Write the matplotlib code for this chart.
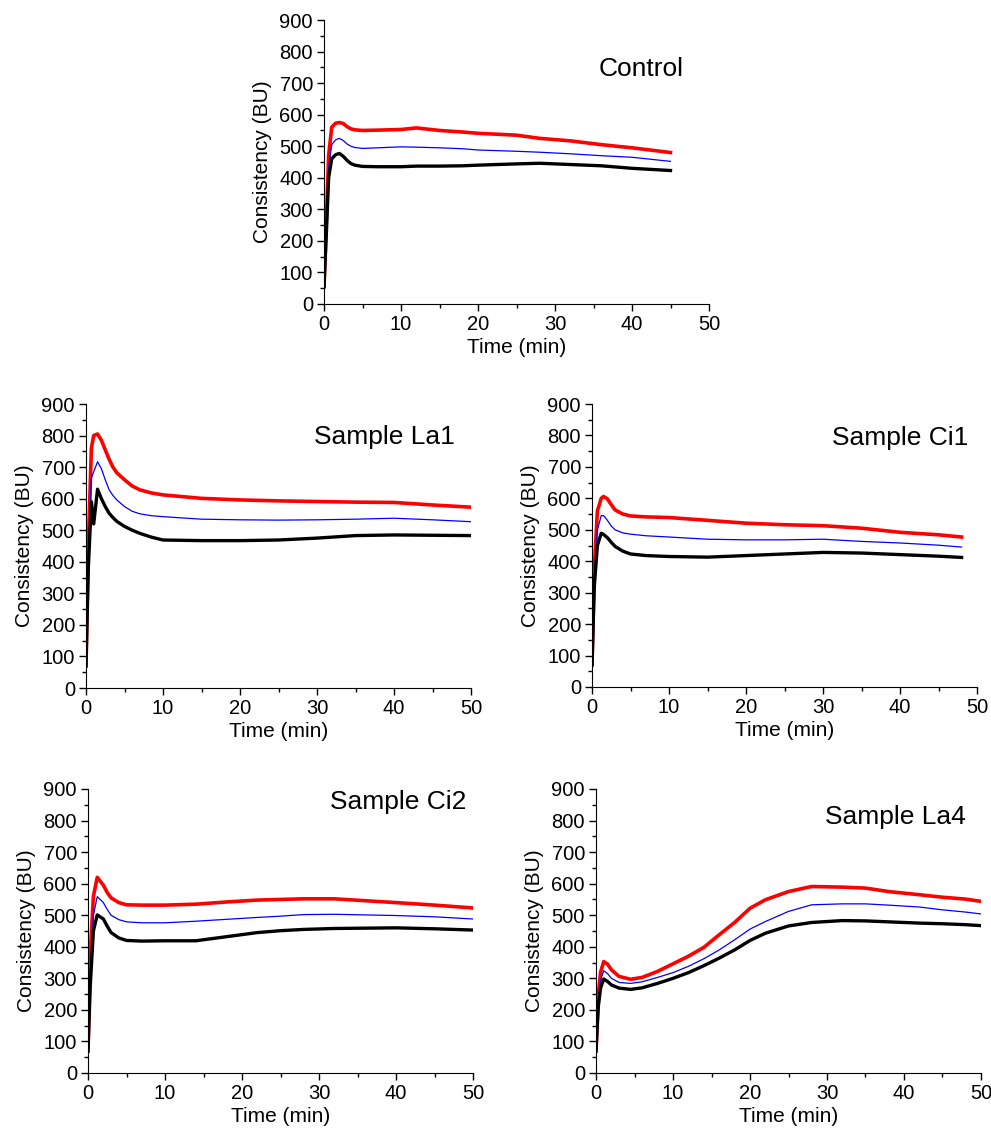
import numpy as np
import matplotlib
matplotlib.use("Agg")
import matplotlib.pyplot as plt
from matplotlib.ticker import MultipleLocator

plt.rcParams['font.family'] = ['Liberation Sans', 'DejaVu Sans']

# Data (time in min, consistency in BU)
ctrl_t = [0, 0.3, 0.6, 1.0, 1.5, 2.0, 2.5, 3.0, 3.5, 4, 5, 7, 10, 12, 15, 18, 20, 25, 28, 32, 36, 40, 45]
ctrl_red = [55, 260, 470, 560, 573, 575, 572, 562, 555, 552, 550, 551, 553, 558, 550, 545, 541, 535, 525, 517, 505, 495, 480]
ctrl_blue = [55, 240, 430, 505, 520, 525, 518, 507, 500, 496, 493, 495, 498, 497, 495, 492, 488, 484, 481, 476, 470, 465, 452]
ctrl_black = [55, 220, 400, 460, 473, 477, 468, 455, 445, 440, 436, 435, 435, 437, 437, 438, 440, 444, 446, 442, 438, 430, 423]

la1_t = [0, 0.3, 0.7, 1.0, 1.5, 2, 2.5, 3, 3.5, 4, 5, 6, 7, 8.5, 10, 15, 20, 25, 30, 35, 40, 45, 50]
la1_red = [70, 450, 760, 800, 805, 785, 755, 725, 700, 682, 660, 640, 628, 618, 612, 601, 596, 593, 591, 589, 588, 580, 573]
la1_blue = [70, 400, 665, 685, 717, 695, 660, 628, 610, 596, 575, 560, 552, 546, 543, 535, 533, 532, 533, 535, 538, 533, 527]
la1_black = [70, 380, 590, 520, 630, 600, 575, 554, 540, 528, 512, 500, 490, 478, 469, 467, 467, 469, 475, 483, 485, 484, 483]

ci1_t = [0, 0.3, 0.7, 1.2, 1.5, 2, 2.5, 3, 4, 5, 7, 10, 15, 20, 25, 30, 35, 40, 45, 48]
ci1_red = [70, 380, 560, 600, 606, 598, 580, 563, 550, 544, 541, 539, 530, 521, 516, 513, 505, 492, 484, 477]
ci1_blue = [70, 350, 500, 545, 545, 530, 512, 500, 490, 486, 481, 477, 470, 468, 468, 470, 463, 458, 451, 445]
ci1_black = [70, 320, 450, 489, 485, 475, 460, 447, 432, 423, 418, 415, 413, 418, 423, 428, 426, 421, 416, 412]

ci2_t = [0, 0.3, 0.7, 1.2, 2, 2.5, 3, 4, 5, 7, 10, 14, 18, 22, 25, 28, 32, 40, 45, 50]
ci2_red = [70, 380, 560, 620, 595, 572, 555, 540, 533, 532, 532, 535, 542, 548, 550, 552, 552, 540, 532, 523]
ci2_blue = [70, 300, 500, 559, 540, 518, 500, 486, 479, 476, 476, 481, 487, 493, 497, 502, 503, 499, 495, 488]
ci2_black = [70, 280, 450, 501, 488, 465, 445, 428, 420, 418, 419, 419, 432, 445, 451, 455, 458, 460, 457, 453]

la4_t = [0, 0.3, 0.6, 1.0, 1.5, 2, 3, 4.5, 6, 8, 10, 12, 14, 16, 18, 20, 22, 25, 28, 32, 35, 38, 42, 45, 48, 50]
la4_red = [70, 250, 320, 353, 345, 327, 306, 297, 303, 322, 346, 370, 398, 438, 477, 522, 549, 575, 591, 589, 586, 575, 565, 557, 551, 544]
la4_blue = [70, 230, 295, 324, 315, 300, 287, 284, 289, 303, 318, 338, 362, 390, 422, 456, 480, 512, 533, 536, 536, 532, 526, 517, 510, 504]
la4_black = [70, 210, 270, 298, 290, 279, 269, 265, 270, 284, 300, 318, 340, 364, 390, 420, 443, 466, 477, 483, 482, 479, 475, 473, 470, 467]

panels = [
    ("Control", ctrl_t, ctrl_red, ctrl_blue, ctrl_black, [324, 20, 709, 304], (0.935, 0.827)),
    ("Sample La1", la1_t, la1_red, la1_blue, la1_black, [86, 404, 471, 688], (0.958, 0.884)),
    ("Sample Ci1", ci1_t, ci1_red, ci1_blue, ci1_black, [592, 404, 977, 687], (0.977, 0.88)),
    ("Sample Ci2", ci2_t, ci2_red, ci2_blue, ci2_black, [88, 789, 473, 1073], (0.982, 0.954)),
    ("Sample La4", la4_t, la4_red, la4_blue, la4_black, [596, 789, 981, 1073], (0.961, 0.90)),
]

W, H = 991, 1128
fig = plt.figure(figsize=(W / 100, H / 100), dpi=100)

for name, t, red, blue, black, box, tpos in panels:
    x0, y0, x1, y1 = box
    ax = fig.add_axes([x0 / W, 1 - y1 / H, (x1 - x0) / W, (y1 - y0) / H])
    ax.plot(t, red, color='#ff0000', lw=2.6)
    ax.plot(t, blue, color='#0000ff', lw=0.9)
    ax.plot(t, black, color='black', lw=2.4)
    ax.set_xlim(0, 50)
    ax.set_ylim(0, 900)
    ax.xaxis.set_major_locator(MultipleLocator(10))
    ax.xaxis.set_minor_locator(MultipleLocator(5))
    ax.yaxis.set_major_locator(MultipleLocator(100))
    ax.yaxis.set_minor_locator(MultipleLocator(50))
    ax.spines['top'].set_visible(False)
    ax.spines['right'].set_visible(False)
    ax.tick_params(which='major', direction='out', length=5, width=1, labelsize=14.5, pad=3)
    ax.tick_params(which='minor', direction='out', length=3, width=1)
    ax.set_xlabel("Time (min)", fontsize=15, labelpad=3)
    ax.set_ylabel("Consistency (BU)", fontsize=15, labelpad=5)
    ax.text(tpos[0], tpos[1], name, transform=ax.transAxes, ha='right', va='center', fontsize=19)

plt.savefig("out.png", dpi=100)
